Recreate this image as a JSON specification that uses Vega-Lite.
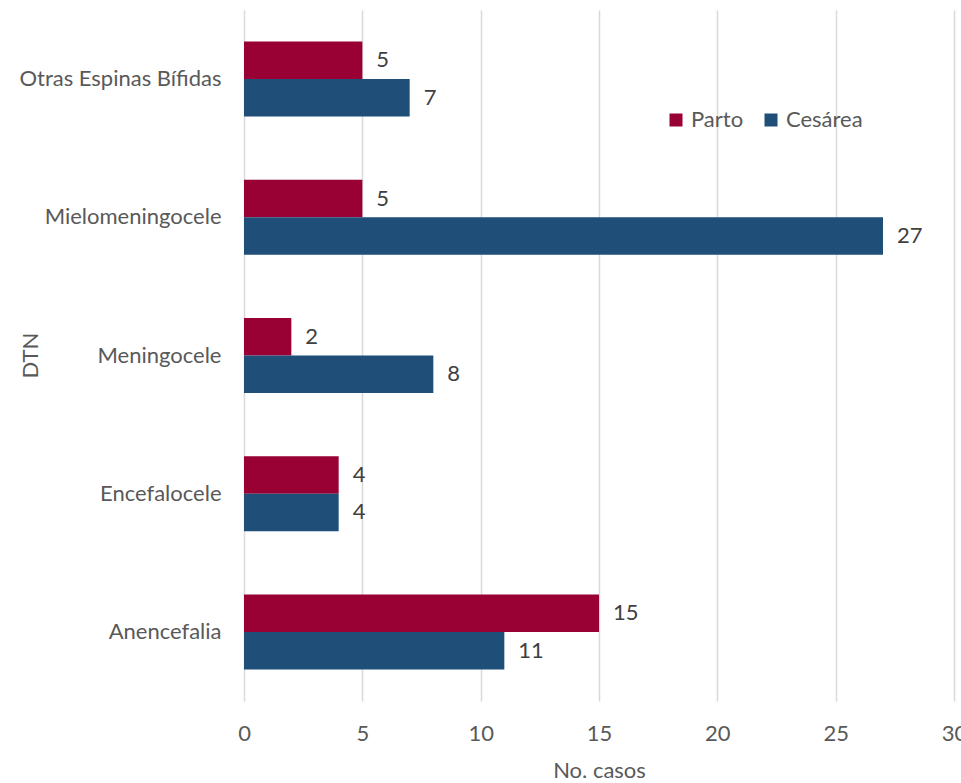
{
  "$schema": "https://vega.github.io/schema/vega-lite/v6.json",
  "autosize": {"type": "none"},
  "padding": {"left": 244, "top": 10, "right": 7, "bottom": 82},
  "width": 710,
  "height": 691,
  "background": "#ffffff",
  "config": {
    "font": "Lato",
    "view": {"stroke": null},
    "axis": {"labelFont": "Lato", "titleFont": "Lato", "labelColor": "#595959", "titleColor": "#595959", "labelFontSize": 22, "titleFontSize": 22, "titleFontWeight": "normal"}
  },
  "data": {
    "values": [
      {"dtn": "Otras Espinas Bífidas", "tipo": "Parto", "casos": 5},
      {"dtn": "Otras Espinas Bífidas", "tipo": "Cesárea", "casos": 7},
      {"dtn": "Mielomeningocele", "tipo": "Parto", "casos": 5},
      {"dtn": "Mielomeningocele", "tipo": "Cesárea", "casos": 27},
      {"dtn": "Meningocele", "tipo": "Parto", "casos": 2},
      {"dtn": "Meningocele", "tipo": "Cesárea", "casos": 8},
      {"dtn": "Encefalocele", "tipo": "Parto", "casos": 4},
      {"dtn": "Encefalocele", "tipo": "Cesárea", "casos": 4},
      {"dtn": "Anencefalia", "tipo": "Parto", "casos": 15},
      {"dtn": "Anencefalia", "tipo": "Cesárea", "casos": 11}
    ]
  },
  "encoding": {
    "y": {
      "field": "dtn", "type": "nominal", "title": "DTN",
      "sort": ["Otras Espinas Bífidas", "Mielomeningocele", "Meningocele", "Encefalocele", "Anencefalia"],
      "scale": {"paddingInner": 0.457, "paddingOuter": 0.228},
      "axis": {"ticks": false, "domain": false, "labelPadding": 23, "labelLimit": 400, "titleAngle": -90, "titleX": -214, "titleY": 345, "titleAlign": "center", "titleBaseline": "middle"}
    },
    "yOffset": {"field": "tipo", "type": "nominal", "sort": ["Parto", "Cesárea"]},
    "x": {
      "field": "casos", "type": "quantitative", "title": "No. casos",
      "scale": {"domain": [0, 30], "nice": false},
      "axis": {"values": [0, 5, 10, 15, 20, 25, 30], "ticks": false, "domain": false, "grid": true, "gridColor": "#d9d9d9", "gridWidth": 1.5, "labelPadding": 22, "labelFlush": false, "titlePadding": 16}
    }
  },
  "layer": [
    {
      "mark": {"type": "bar"},
      "encoding": {
        "color": {
          "field": "tipo", "type": "nominal", "title": null,
          "sort": ["Parto", "Cesárea"],
          "scale": {"domain": ["Parto", "Cesárea"], "range": ["#990033", "#1f4e79"]},
          "legend": {"orient": "none", "legendX": 421, "legendY": 99, "direction": "horizontal", "symbolType": "square", "symbolSize": 169, "symbolStrokeWidth": 0, "labelFontSize": 22, "labelFont": "Lato", "labelColor": "#595959", "columnPadding": 16, "labelOffset": 4}
        }
      }
    },
    {
      "mark": {"type": "text", "align": "left", "baseline": "middle", "dx": 14, "fontSize": 22, "font": "Lato", "color": "#404040"},
      "encoding": {"text": {"field": "casos", "type": "quantitative"}}
    }
  ]
}
